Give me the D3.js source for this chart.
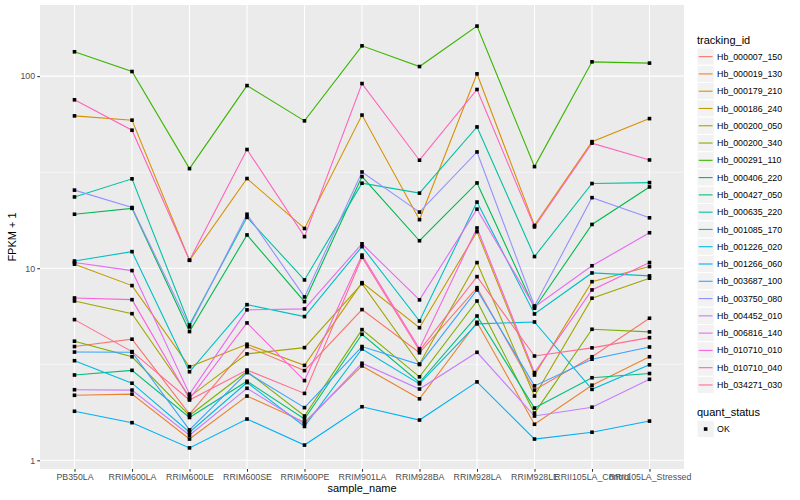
<!DOCTYPE html>
<html>
<head>
<meta charset="utf-8">
<script src="https://cdn.jsdelivr.net/npm/d3@7"></script>
<style>
  body { margin: 0; background: #fff; }
  text { font-family: "Liberation Sans", Arial, Helvetica, sans-serif; }
</style>
</head>
<body>
<div id="chart"></div>
<script>
// Samples on the x axis
const samples = ["PB350LA", "RRIM600LA", "RRIM600LE", "RRIM600SE", "RRIM600PE", "RRIM901LA",
                 "RRIM928BA", "RRIM928LA", "RRIM928LE", "RRII105LA_Control", "RRII105LA_Stressed"];

// Genes (legend order)
const trackingIds = ["Hb_000007_150", "Hb_000019_130", "Hb_000179_210", "Hb_000186_240", "Hb_000200_050",
                     "Hb_000200_340", "Hb_000291_110", "Hb_000406_220", "Hb_000427_050", "Hb_000635_220",
                     "Hb_001085_170", "Hb_001226_020", "Hb_001266_060", "Hb_003687_100", "Hb_003750_080",
                     "Hb_004452_010", "Hb_006816_140", "Hb_010710_010", "Hb_010710_040", "Hb_034271_030"];

// FPKM + 1 for each gene, one value per sample
const hb_000007_150 = [3.91, 4.27, 1.74, 3.91, 2.93, 6.09, 3.63, 7.92, 2.32, 3.46, 5.49];
const hb_000019_130 = [2.18, 2.21, 1.29, 2.16, 1.58, 3.10, 2.09, 5.23, 1.54, 2.46, 3.46];
const hb_000179_210 = [62.1, 59.0, 11.0, 29.3, 16.1, 62.7, 17.9, 102.8, 16.7, 45.6, 60.1];
const hb_000186_240 = [10.5, 8.12, 3.07, 4.02, 3.12, 8.41, 4.90, 15.5, 2.78, 8.51, 10.2];
const hb_000200_050 = [6.75, 5.80, 2.14, 3.58, 3.86, 8.31, 3.17, 10.7, 2.16, 6.98, 8.87];
const hb_000200_340 = [4.17, 3.46, 1.71, 2.90, 1.70, 4.79, 2.72, 6.75, 1.76, 4.81, 4.66];
const hb_000291_110 = [133.9, 105.7, 33.0, 89.3, 58.5, 143.8, 112.2, 182.2, 33.8, 118.7, 116.9];
const hb_000406_220 = [19.1, 20.5, 4.68, 14.9, 6.70, 30.0, 13.9, 27.8, 6.19, 16.9, 26.5];
const hb_000427_050 = [2.78, 2.94, 1.67, 2.58, 1.64, 4.53, 2.54, 5.64, 1.87, 2.69, 2.83];
const hb_000635_220 = [23.5, 29.2, 5.07, 18.4, 8.69, 27.7, 24.6, 54.4, 11.5, 27.6, 27.9];
const hb_001085_170 = [10.9, 12.2, 2.89, 6.46, 5.60, 12.96, 5.31, 22.1, 5.78, 9.45, 9.12];
const hb_001226_020 = [3.30, 2.52, 1.40, 2.54, 1.50, 3.80, 2.50, 5.13, 5.25, 2.34, 3.14];
const hb_001266_060 = [1.80, 1.57, 1.16, 1.64, 1.20, 1.90, 1.62, 2.56, 1.29, 1.40, 1.60];
const hb_003687_100 = [3.66, 3.65, 1.44, 2.86, 1.88, 3.91, 3.15, 7.71, 2.44, 3.36, 3.89];
const hb_003750_080 = [25.5, 20.7, 4.95, 19.1, 7.09, 31.7, 19.6, 40.3, 6.36, 23.3, 18.3];
const hb_004452_010 = [2.33, 2.32, 1.35, 2.37, 1.55, 3.20, 2.35, 3.65, 1.70, 1.89, 2.64];
const hb_006816_140 = [10.7, 9.72, 2.21, 6.07, 6.14, 13.4, 6.84, 20.3, 6.29, 10.3, 15.3];
const hb_010710_010 = [7.00, 6.86, 2.09, 5.19, 2.60, 11.7, 3.81, 16.2, 2.86, 7.71, 10.7];
const hb_010710_040 = [75.3, 52.3, 11.0, 41.5, 14.6, 91.5, 36.5, 85.2, 16.4, 44.8, 36.6];
const hb_034271_030 = [5.40, 3.68, 2.06, 2.95, 2.23, 11.4, 3.73, 9.04, 3.49, 3.85, 4.35];

const seriesValues = [hb_000007_150, hb_000019_130, hb_000179_210, hb_000186_240, hb_000200_050,
                      hb_000200_340, hb_000291_110, hb_000406_220, hb_000427_050, hb_000635_220,
                      hb_001085_170, hb_001226_020, hb_001266_060, hb_003687_100, hb_003750_080,
                      hb_004452_010, hb_006816_140, hb_010710_010, hb_010710_040, hb_034271_030];

const yTicks = [1, 10, 100];
const quantStatus = ["OK"];

// ggplot hue palette, 20 levels
const palette = ["#F8766D", "#EA8331", "#D89000", "#C09B00", "#A3A500", "#7CAE00", "#39B600", "#00BB4E",
                 "#00BF7D", "#00C1A3", "#00BFC4", "#00BAE0", "#00B0F6", "#35A2FF", "#9590FF", "#C77CFF",
                 "#E76BF3", "#FA62DB", "#FF62BC", "#FF6C91"];

// Layout
let svgWidth = 800, svgHeight = 500;
let panel = { left: 40, right: 684, top: 5, bottom: 469 };

let svg = d3.select('#chart')
            .append('svg')
            .attr('width', svgWidth)
            .attr('height', svgHeight);

// Scales
let x = d3.scalePoint()
          .domain(samples)
          .range([panel.left, panel.right])
          .padding(0.6);

let logExt = d3.extent(seriesValues.flat()).map(Math.log10);
let pad = (logExt[1] - logExt[0]) * 0.05;
let y = d3.scaleLog()
          .domain([Math.pow(10, logExt[0] - pad), Math.pow(10, logExt[1] + pad)])
          .range([panel.bottom, panel.top]);

let color = d3.scaleOrdinal().domain(trackingIds).range(palette);

// Panel background + grid
svg.append('rect')
   .attr('x', panel.left).attr('y', panel.top)
   .attr('width', panel.right - panel.left).attr('height', panel.bottom - panel.top)
   .attr('fill', '#EBEBEB');

let minorTicks = yTicks.slice(0, -1).map(d => d * Math.sqrt(10));
svg.append('g').selectAll('line.minor')
   .data(minorTicks).enter().append('line')
   .attr('x1', panel.left).attr('x2', panel.right)
   .attr('y1', d => y(d)).attr('y2', d => y(d))
   .attr('stroke', '#fff').attr('stroke-width', 0.53);

svg.append('g').selectAll('line.hmajor')
   .data(yTicks).enter().append('line')
   .attr('x1', panel.left).attr('x2', panel.right)
   .attr('y1', d => y(d)).attr('y2', d => y(d))
   .attr('stroke', '#fff').attr('stroke-width', 1.07);

svg.append('g').selectAll('line.vmajor')
   .data(samples).enter().append('line')
   .attr('x1', d => x(d)).attr('x2', d => x(d))
   .attr('y1', panel.top).attr('y2', panel.bottom)
   .attr('stroke', '#fff').attr('stroke-width', 1.07);

// Lines
let line = d3.line()
             .x((d, i) => x(samples[i]))
             .y(d => y(d));

svg.append('g').selectAll('path')
   .data(seriesValues).enter().append('path')
   .attr('d', d => line(d))
   .attr('fill', 'none')
   .attr('stroke', (d, i) => color(trackingIds[i]))
   .attr('stroke-width', 1.1);

// Points (quant_status = OK)
let pts = [];
seriesValues.forEach(vals => vals.forEach((v, i) => pts.push({ s: samples[i], v: v })));
svg.append('g').selectAll('rect')
   .data(pts).enter().append('rect')
   .attr('x', d => x(d.s) - 1.8)
   .attr('y', d => y(d.v) - 1.8)
   .attr('width', 3.6).attr('height', 3.6)
   .attr('fill', '#000');

// Axes
let xAxis = svg.append('g')
   .attr('transform', `translate(0, ${panel.bottom})`)
   .call(d3.axisBottom(x).tickSize(2.74).tickPadding(2.2));
let yAxis = svg.append('g')
   .attr('transform', `translate(${panel.left}, 0)`)
   .call(d3.axisLeft(y).tickValues(yTicks).tickFormat(d3.format('d')).tickSize(2.74).tickPadding(2.2));

[xAxis, yAxis].forEach(a => {
    a.select('.domain').remove();
    a.selectAll('.tick line').attr('stroke', '#333333').attr('stroke-width', 1.07);
    a.selectAll('.tick text').attr('fill', '#4D4D4D').attr('font-size', 8.8)
     .attr('font-family', '"Liberation Sans", Arial, sans-serif');
});

// Axis titles
svg.append('text')
   .attr('x', (panel.left + panel.right) / 2).attr('y', 492)
   .attr('text-anchor', 'middle').attr('font-size', 11)
   .text('sample_name');

svg.append('text')
   .attr('transform', `translate(16, ${(panel.top + panel.bottom) / 2}) rotate(-90)`)
   .attr('text-anchor', 'middle').attr('font-size', 11)
   .text('FPKM + 1');

// Legend: tracking_id
let keySize = 17.28;
let legX = 697, legTop = 48;
svg.append('text')
   .attr('x', legX).attr('y', 44)
   .attr('font-size', 11)
   .text('tracking_id');

let keys = svg.append('g').selectAll('g')
   .data(trackingIds).enter().append('g')
   .attr('transform', (d, i) => `translate(${legX}, ${legTop + i * keySize})`);

keys.append('rect')
    .attr('width', keySize).attr('height', keySize)
    .attr('fill', '#F2F2F2').attr('stroke', '#fff').attr('stroke-width', 1);
keys.append('line')
    .attr('x1', 1.7).attr('x2', keySize - 1.7)
    .attr('y1', keySize / 2).attr('y2', keySize / 2)
    .attr('stroke', d => color(d)).attr('stroke-width', 1.1);
keys.append('text')
    .attr('x', keySize + 2.8).attr('y', keySize / 2 + 3.1)
    .attr('font-size', 8.8)
    .text(d => d);

// Legend: quant_status
svg.append('text')
   .attr('x', legX).attr('y', 415.5)
   .attr('font-size', 11)
   .text('quant_status');

let qKeys = svg.append('g').selectAll('g')
   .data(quantStatus).enter().append('g')
   .attr('transform', (d, i) => `translate(${legX}, ${420.4 + i * keySize})`);
qKeys.append('rect')
    .attr('width', keySize).attr('height', keySize)
    .attr('fill', '#F2F2F2').attr('stroke', '#fff').attr('stroke-width', 1);
qKeys.append('rect')
    .attr('x', keySize / 2 - 1.8).attr('y', keySize / 2 - 1.8)
    .attr('width', 3.6).attr('height', 3.6)
    .attr('fill', '#000');
qKeys.append('text')
    .attr('x', keySize + 2.8).attr('y', keySize / 2 + 3.1)
    .attr('font-size', 8.8)
    .text(d => d);
</script>
</body>
</html>
